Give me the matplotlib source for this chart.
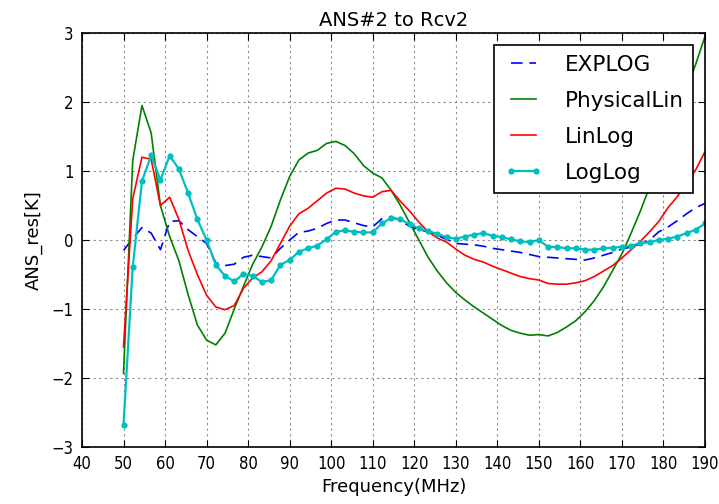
import numpy as np
import matplotlib
matplotlib.use('Agg')
import matplotlib.pyplot as plt

# frequency grid (MHz), 64 samples from 50 to 190
freq = np.linspace(50, 190, 64)

explog = [-0.15, 0.02, 0.18, 0.10, -0.14, 0.27, 0.28, 0.15, 0.05, -0.05,
          -0.33, -0.37, -0.35, -0.25, -0.22, -0.24, -0.26, -0.12, 0.00, 0.11,
          0.13, 0.17, 0.24, 0.29, 0.29, 0.25, 0.21, 0.19, 0.31, 0.34,
          0.28, 0.20, 0.15, 0.12, 0.07, 0.01, -0.05, -0.06, -0.07, -0.09,
          -0.12, -0.14, -0.16, -0.18, -0.21, -0.24, -0.25, -0.26, -0.27, -0.28,
          -0.29, -0.26, -0.22, -0.18, -0.13, -0.10, -0.06, 0.00, 0.12, 0.19,
          0.28, 0.38, 0.47, 0.53]

physical_lin = [-1.93, 1.15, 1.95, 1.55, 0.50, 0.05, -0.30, -0.79, -1.23, -1.45,
                -1.52, -1.35, -1.00, -0.67, -0.35, -0.10, 0.20, 0.58, 0.92, 1.16,
                1.26, 1.30, 1.40, 1.43, 1.37, 1.25, 1.08, 0.97, 0.90, 0.72,
                0.50, 0.25, 0.00, -0.25, -0.45, -0.62, -0.76, -0.87, -0.97, -1.06,
                -1.15, -1.24, -1.31, -1.35, -1.38, -1.37, -1.39, -1.34, -1.26, -1.17,
                -1.04, -0.88, -0.68, -0.44, -0.20, 0.10, 0.42, 0.77, 1.10, 1.45,
                1.82, 2.18, 2.55, 2.95]

linlog = [-1.55, 0.60, 1.20, 1.17, 0.50, 0.62, 0.30, -0.15, -0.50, -0.80,
          -0.97, -1.01, -0.95, -0.70, -0.55, -0.46, -0.30, -0.05, 0.20, 0.38,
          0.46, 0.57, 0.68, 0.75, 0.74, 0.68, 0.64, 0.62, 0.70, 0.72,
          0.56, 0.42, 0.26, 0.12, 0.03, -0.03, -0.13, -0.22, -0.28, -0.32,
          -0.38, -0.43, -0.48, -0.53, -0.56, -0.58, -0.63, -0.64, -0.64, -0.62,
          -0.59, -0.53, -0.45, -0.37, -0.26, -0.14, -0.02, 0.12, 0.27, 0.47,
          0.63, 0.82, 1.02, 1.28]

loglog = [-2.68, -0.39, 0.85, 1.23, 0.87, 1.22, 1.03, 0.68, 0.30, 0.00,
          -0.36, -0.52, -0.60, -0.49, -0.52, -0.61, -0.58, -0.36, -0.29, -0.17,
          -0.12, -0.08, 0.01, 0.12, 0.14, 0.12, 0.11, 0.11, 0.24, 0.32,
          0.30, 0.23, 0.17, 0.13, 0.09, 0.04, 0.02, 0.05, 0.08, 0.10,
          0.06, 0.04, 0.01, -0.02, -0.03, 0.00, -0.10, -0.10, -0.12, -0.12,
          -0.14, -0.14, -0.12, -0.11, -0.10, -0.08, -0.05, -0.03, 0.00, 0.02,
          0.05, 0.10, 0.15, 0.24]

fig = plt.figure(figsize=(7.19, 5.04), dpi=100)
ax = fig.add_axes([0.114, 0.113, 0.8665, 0.8215])

ax.plot(freq, explog, 'b--', lw=1.2, dashes=(7, 4), label='EXPLOG')
ax.plot(freq, physical_lin, 'g-', lw=1.2, label='PhysicalLin')
ax.plot(freq, linlog, 'r-', lw=1.2, label='LinLog')
ax.plot(freq, loglog, 'c-', lw=1.6, marker='o', ms=4.5, mew=0, label='LogLog')

ax.set_xlim(40, 190)
ax.set_ylim(-3, 3)
ax.set_xticks(range(40, 191, 10))
ax.set_yticks(range(-3, 4))
ax.tick_params(direction='in', top=True, right=True, labelsize=12, length=5, pad=6)
for lab in ax.get_xticklabels() + ax.get_yticklabels():
    lab.set_fontstretch('condensed')
ax.grid(True, color='0.55', linestyle=(0, (2, 3)), lw=0.8)
for s in ax.spines.values():
    s.set_linewidth(1.2)

ax.set_title('ANS#2 to Rcv2', fontsize=14, pad=5)
ax.set_xlabel('Frequency(MHz)', fontsize=13, labelpad=3)
ax.set_ylabel('ANS_res[K]', fontsize=13, labelpad=6)

leg = ax.legend(loc='upper right', fontsize=15.5, fancybox=False, numpoints=2,
                framealpha=1, edgecolor='k', borderaxespad=0.55, borderpad=0.45,
                labelspacing=0.75, handlelength=1.8, handletextpad=1.0)
leg.get_frame().set_linewidth(1.2)

fig.savefig('out.png', dpi=100, facecolor='white')
